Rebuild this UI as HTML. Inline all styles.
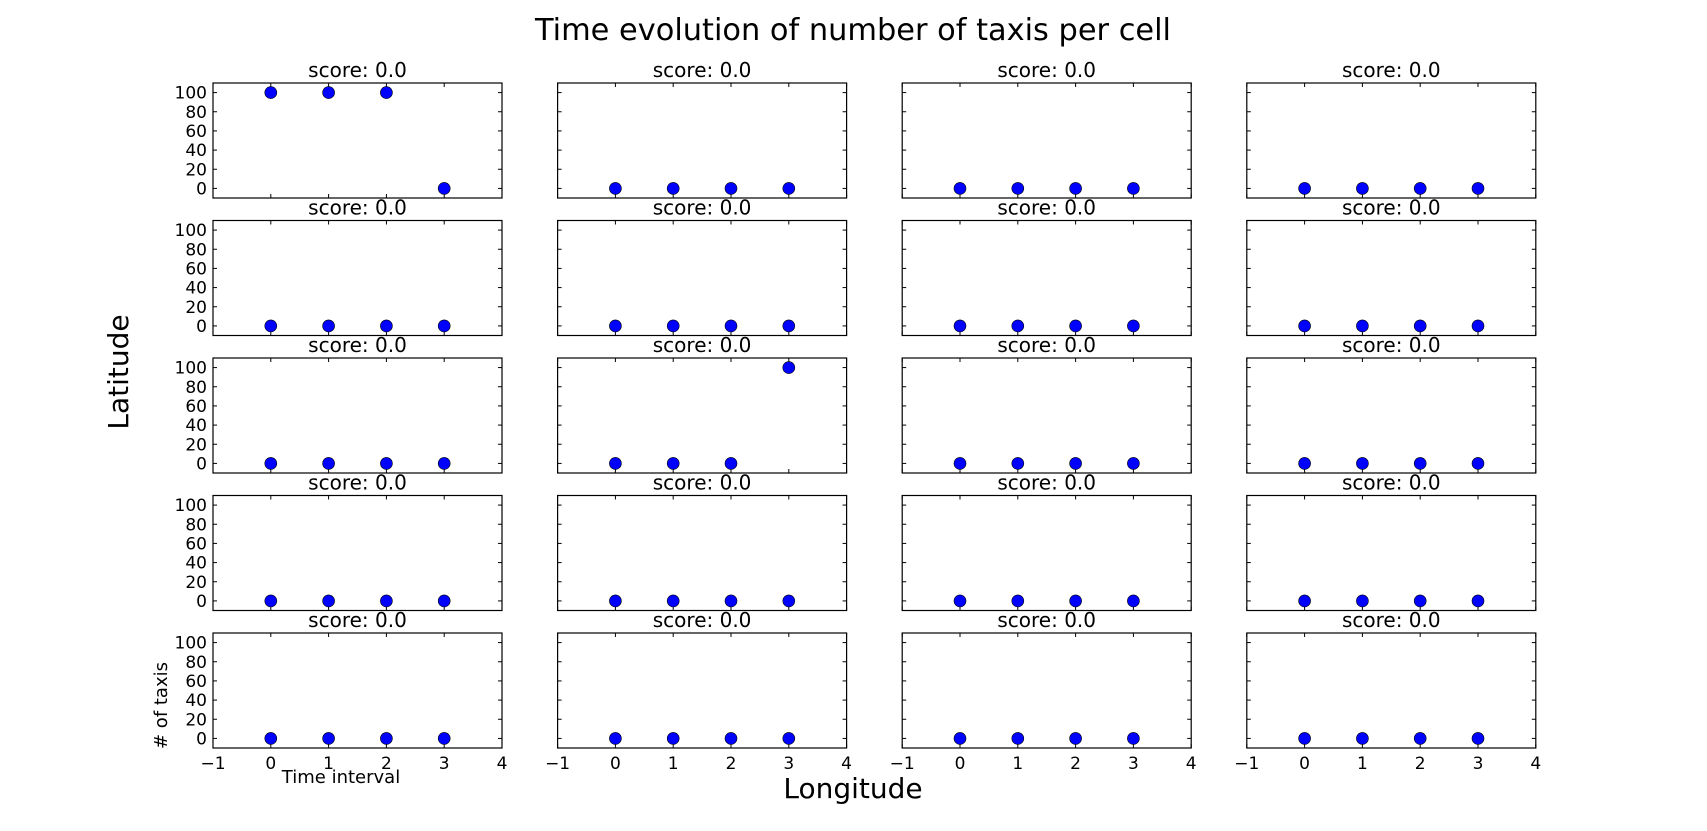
<!DOCTYPE html>
<html><head><meta charset="utf-8"><style>
body{margin:0;background:#fff}
svg{display:block;font-family:"DejaVu Sans","Liberation Sans",sans-serif}
</style></head><body>
<svg id="fig" width="1707" height="831" viewBox="0 0 1707 831" xmlns="http://www.w3.org/2000/svg">
<rect width="1707" height="831" fill="#fff"/>
<text x="853" y="40" font-size="30" text-anchor="middle" textLength="636" lengthAdjust="spacingAndGlyphs">Time evolution of number of taxis per cell</text>
<text transform="translate(128,372) rotate(-90)" font-size="28" text-anchor="middle">Latitude</text>
<text x="853" y="798" font-size="28" text-anchor="middle">Longitude</text>
<g id="panels"></g>
</svg>
<script>
const timeIntervals=[0,1,2,3];
const xTicks=[-1,0,1,2,3,4];
const yTicks=[0,20,40,60,80,100];
const scoreLabels=["score: 0.0"];
// values per cell, row-major 5 rows x 4 cols
const cellR0C0=[100,100,100,0];
const cellR2C1=[0,0,0,100];
const zeroCell=[0,0,0,0];
const cellValues=[
 [cellR0C0,zeroCell,zeroCell,zeroCell],
 [zeroCell,zeroCell,zeroCell,zeroCell],
 [zeroCell,cellR2C1,zeroCell,zeroCell],
 [zeroCell,zeroCell,zeroCell,zeroCell],
 [zeroCell,zeroCell,zeroCell,zeroCell]
];
const NS="http://www.w3.org/2000/svg";
const g=document.getElementById('panels');
const PW=289,PH=115,X0=213,DX=344.6,Y0=83,DY=137.5;
function mk(t,a,p){const e=document.createElementNS(NS,t);for(const k in a)e.setAttribute(k,a[k]);(p||g).appendChild(e);return e;}
for(let r=0;r<5;r++){for(let c=0;c<4;c++){
 const L=X0+c*DX,T=Y0+r*DY;
 const xs=v=>L+(v+1)/5*PW;
 const ys=v=>T+(110-v)/120*PH;
 const pg=mk('g',{});
 
 
 const st=mk('text',{x:L+PW/2,y:T-6,'font-size':20,'text-anchor':'middle'},pg);
 st.textContent=scoreLabels[0];
 
 
 for(const t of xTicks){const x=xs(t);
  mk('line',{x1:x,x2:x,y1:T+PH,y2:T+PH-4,stroke:'#000'},pg);
  mk('line',{x1:x,x2:x,y1:T,y2:T+4,stroke:'#000'},pg);
  if(r===4){const tl=mk('text',{x:x,y:T+PH+21,'font-size':17,'text-anchor':'middle'},pg);tl.textContent=t<0?'\u2212'+(-t):t;
   
   }
 }
 for(const t of yTicks){const y=ys(t);
  mk('line',{x1:L,x2:L+4,y1:y,y2:y,stroke:'#000'},pg);
  mk('line',{x1:L+PW,x2:L+PW-4,y1:y,y2:y,stroke:'#000'},pg);
  if(c===0){const tl=mk('text',{x:L-6,y:y+6,'font-size':17,'text-anchor':'end'},pg);tl.textContent=t;
   
   }
 }
 const fr=mk('rect',{x:L,y:T,width:PW,height:PH,fill:'none',stroke:'#000','stroke-width':1.2},pg);
 
 
 const vals=cellValues[r][c];
 timeIntervals.forEach((t,i)=>{
  const p=mk('circle',{cx:xs(t),cy:ys(vals[i]),r:6,fill:'#0000ff',stroke:'#000','stroke-width':0.6},pg);
  
  
 });
 if(r===4&&c===0){
  const a=mk('text',{x:341,y:T+PH+35,'font-size':18,'text-anchor':'middle'},pg);a.textContent='Time interval';
  
  
  const b=mk('text',{transform:'translate(167,'+(T+PH/2+15)+') rotate(-90)','font-size':18,'text-anchor':'middle'},pg);b.textContent='# of taxis';
  
  
 }
}}
</script>
</body></html>
